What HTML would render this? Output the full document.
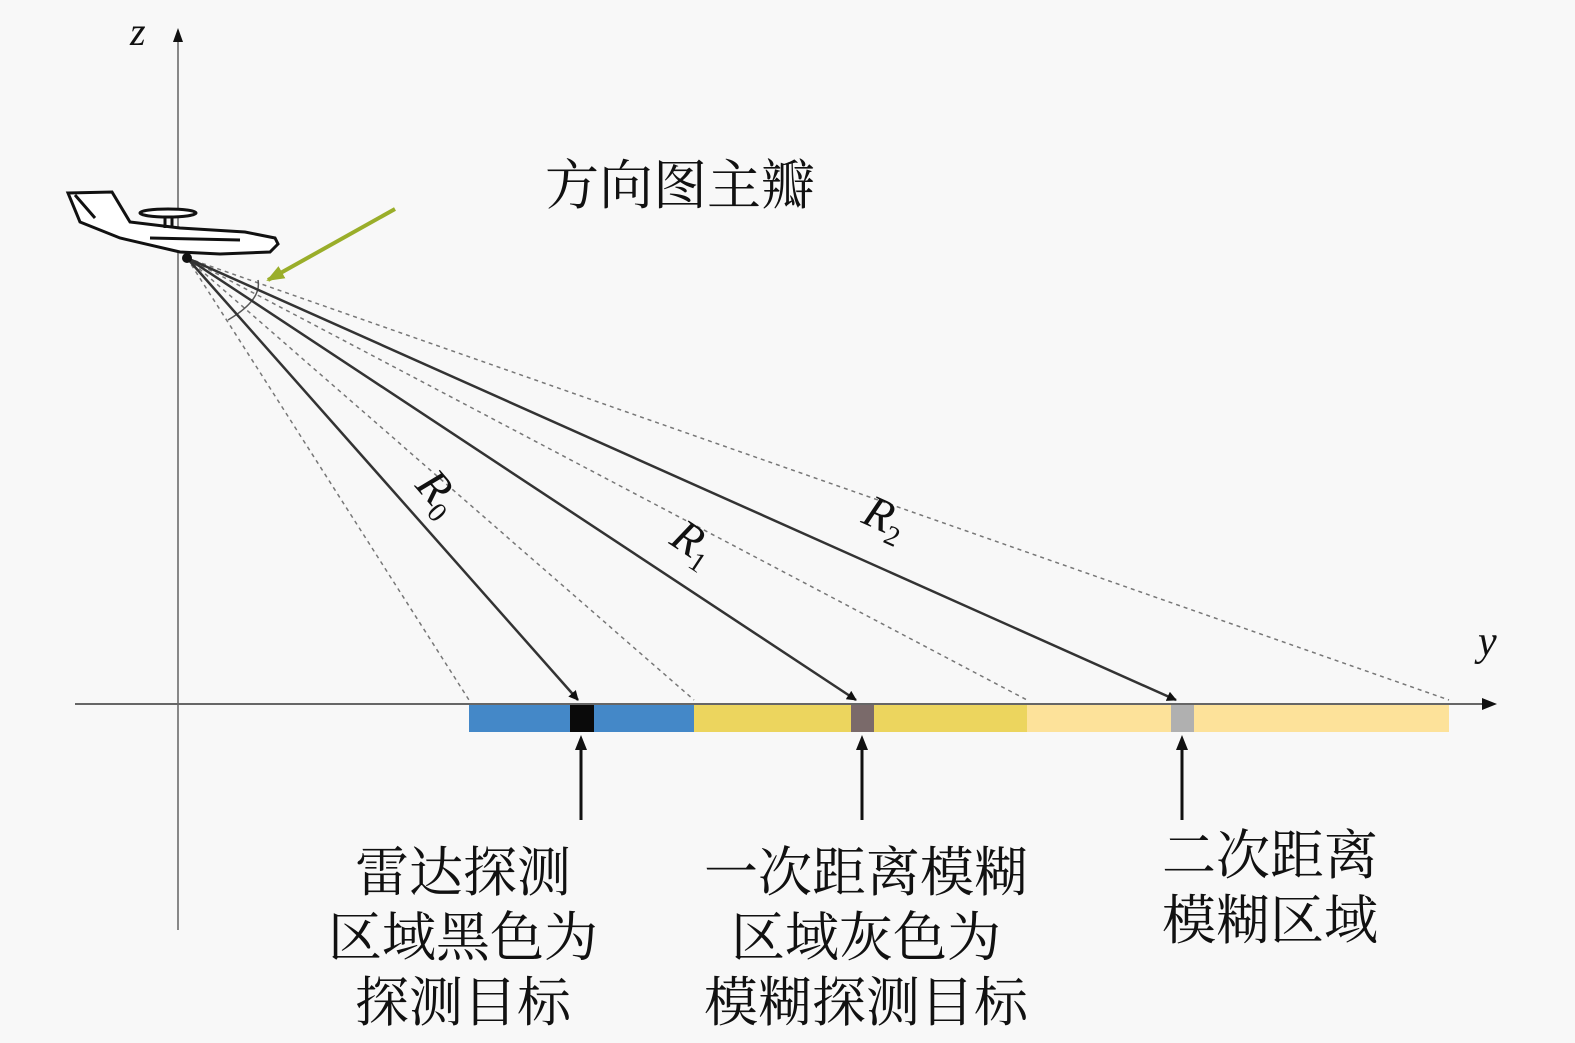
<!DOCTYPE html>
<html><head><meta charset="utf-8"><style>
html,body{margin:0;padding:0;background:#f8f8f8;}
svg{display:block}
.cj{font-family:"Liberation Serif","Noto Serif CJK SC",serif;font-size:54px;fill:#111}
.m{font-family:"Liberation Serif",serif;font-style:italic;fill:#111}
</style></head><body>
<svg width="1575" height="1043" viewBox="0 0 1575 1043">
<defs>
<marker id="a" markerWidth="10" markerHeight="10" refX="9" refY="5" orient="auto" markerUnits="userSpaceOnUse"><path d="M0,0 L10,5 L0,10 Z" fill="#111"/></marker>
<marker id="g" markerWidth="18" markerHeight="14" refX="16" refY="7" orient="auto" markerUnits="userSpaceOnUse"><path d="M0,0 L18,7 L0,14 Z" fill="#9aae2a"/></marker>
</defs>
<rect width="1575" height="1043" fill="#f8f8f8"/>
<line x1="178" y1="930" x2="178" y2="32" stroke="#888" stroke-width="2"/>
<path d="M173,42 L178,28 L183,42 Z" fill="#111"/>
<line x1="75" y1="704" x2="1490" y2="704" stroke="#666" stroke-width="2"/>
<path d="M1482,698 L1497,704 L1482,710 Z" fill="#111"/>
<text x="130" y="45" class="m" font-size="40">z</text>
<text x="1478" y="655" class="m" font-size="42">y</text>
<rect x="469" y="705" width="225" height="27" fill="#4488c8"/>
<rect x="694" y="705" width="333" height="27" fill="#ecd55e"/>
<rect x="1027" y="705" width="422" height="27" fill="#fde29a"/>
<rect x="570" y="705" width="24" height="27" fill="#0a0a0a"/>
<rect x="851" y="705" width="23" height="27" fill="#7a6a6a"/>
<rect x="1171" y="705" width="23" height="27" fill="#b0b0b0"/>
<g stroke="#777" stroke-width="1.5" stroke-dasharray="4,4" fill="none">
<line x1="187" y1="258" x2="469" y2="700"/>
<line x1="187" y1="258" x2="694" y2="700"/>
<line x1="187" y1="258" x2="1027" y2="700"/>
<line x1="187" y1="258" x2="1449" y2="700"/>
</g>
<path d="M228,320 Q262,300 258,280" stroke="#555" stroke-width="1.5" fill="none"/>
<g stroke="#333" stroke-width="2.5" fill="none">
<line x1="187" y1="258" x2="578" y2="700" marker-end="url(#a)"/>
<line x1="187" y1="258" x2="856" y2="700" marker-end="url(#a)"/>
<line x1="187" y1="258" x2="1176" y2="700" marker-end="url(#a)"/>
</g>
<g stroke="#111" stroke-width="3">
<line x1="581" y1="820" x2="581" y2="740"/>
<line x1="862" y1="820" x2="862" y2="740"/>
<line x1="1182" y1="820" x2="1182" y2="740"/>
</g>
<path d="M575,750 L581,735 L587,750 Z M856,750 L862,735 L868,750 Z M1176,750 L1182,735 L1188,750 Z" fill="#111"/>
<g class="m">
<text transform="translate(414,486) rotate(49)" font-size="46">R<tspan font-size="28" dy="9" font-style="normal">0</tspan></text>
<text transform="translate(668,543) rotate(33.5)" font-size="46">R<tspan font-size="28" dy="9" font-style="normal">1</tspan></text>
<text transform="translate(860,522) rotate(24)" font-size="46">R<tspan font-size="28" dy="9" font-style="normal">2</tspan></text>
</g>
<line x1="395" y1="209" x2="268" y2="280" stroke="#9aae2a" stroke-width="4" marker-end="url(#g)"/>
<g stroke="#111" stroke-width="3" fill="#fff">
<path d="M68,193 L112,192 L130,222 L180,228 L245,232 L275,238 L278,244 L270,252 L220,254 L180,252 L120,238 L80,222 Z"/>
<ellipse cx="168" cy="213" rx="28" ry="4"/>
<line x1="165" y1="217" x2="165" y2="228"/>
<line x1="172" y1="217" x2="172" y2="228"/>
<line x1="75" y1="195" x2="95" y2="218"/>
<line x1="150" y1="238" x2="240" y2="240"/>
</g>
<circle cx="187" cy="258" r="5" fill="#111"/>
<text x="545" y="204" class="cj" font-size="54">方向图主瓣</text>
<g class="cj" text-anchor="middle">
<text x="463" y="891">雷达探测</text>
<text x="463" y="956">区域黑色为</text>
<text x="463" y="1021">探测目标</text>
<text x="866" y="891">一次距离模糊</text>
<text x="866" y="956">区域灰色为</text>
<text x="866" y="1021">模糊探测目标</text>
<text x="1270" y="874">二次距离</text>
<text x="1270" y="939">模糊区域</text>
</g>
</svg>
</body></html>
